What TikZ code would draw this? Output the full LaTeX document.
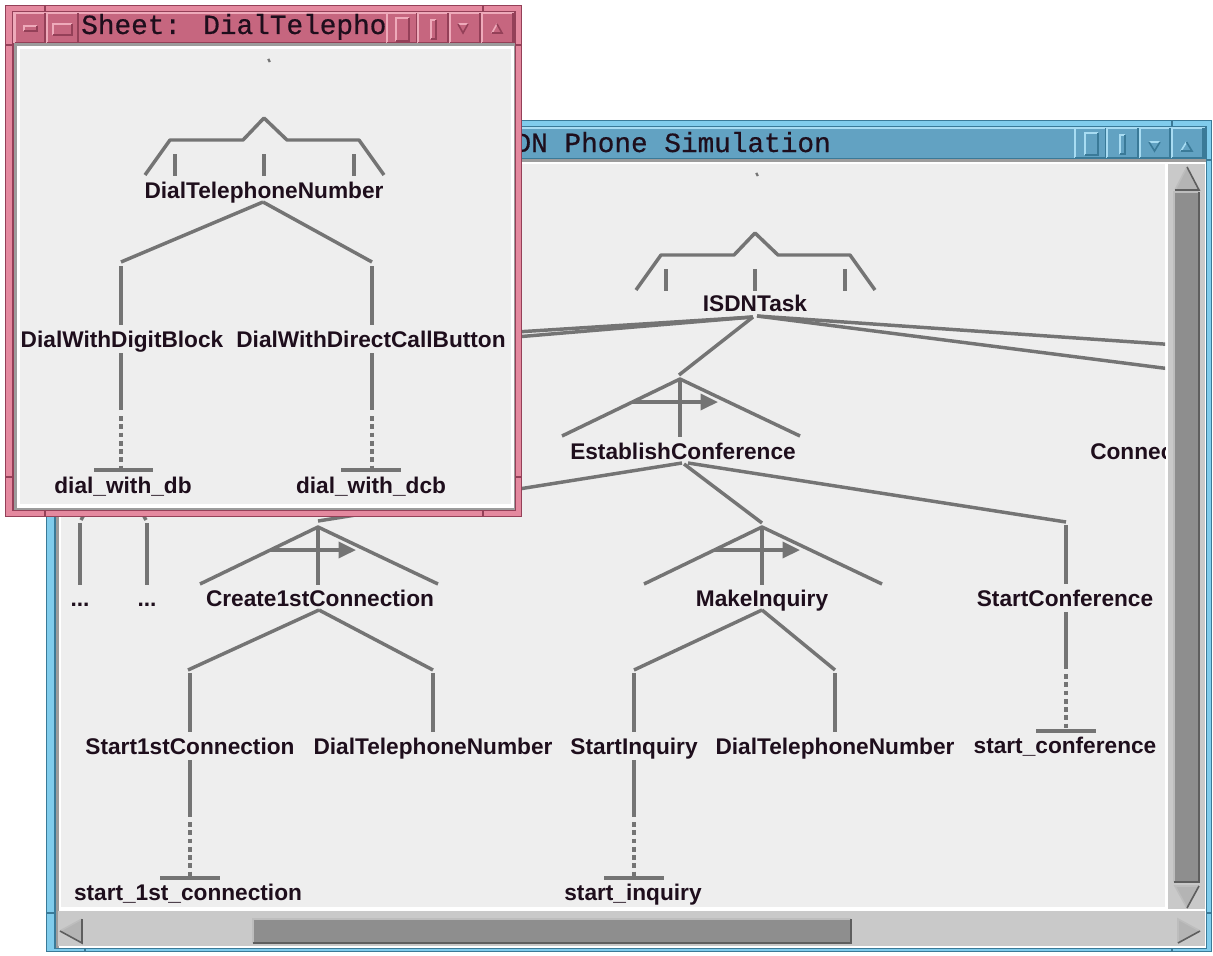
\documentclass[tikz,border=0pt]{standalone}
\usepackage{fontspec}
\setmainfont{Liberation Sans}
\newfontfamily\ttlfont{Liberation Mono}[FakeBold=0.6]
\usetikzlibrary{arrows.meta,calc}

\definecolor{linegray}{HTML}{747474}
\definecolor{inktext}{HTML}{1E0E1C}
\definecolor{canvas}{HTML}{EEEEEE}
\definecolor{shadowgray}{HTML}{9C9C9C}
\definecolor{bluefr}{HTML}{80CCEC}
\definecolor{bluedark}{HTML}{3A7A98}
\definecolor{blueface}{HTML}{62A2C2}
\definecolor{bluelight}{HTML}{A8DCF2}
\definecolor{pinkfr}{HTML}{E4899F}
\definecolor{pinkdark}{HTML}{944058}
\definecolor{pinkface}{HTML}{C6667F}
\definecolor{pinklight}{HTML}{EEAABA}
\definecolor{trough}{HTML}{C9C9C9}
\definecolor{thumbface}{HTML}{8E8E8E}
\definecolor{thumblight}{HTML}{BDBDBD}
\definecolor{thumbdark}{HTML}{5E5E5E}
\definecolor{arrowface}{HTML}{B4B4B4}

% raised (bevelled) rectangle: x1 y1 x2 y2 colour-prefix
\newcommand\winbtn[5]{%
  \fill[#5face] (#1,#2) rectangle (#3,#4);
  \draw[#5light, line width=1.2pt] (#1,#4) -- (#1,#2) -- (#3,#2);
  \draw[#5dark, line width=1.2pt] (#3,#2) -- (#3,#4) -- (#1,#4);
}

\tikzset{
  lbl/.style={font=\fontsize{17}{20}\selectfont\bfseries, text=inktext, inner sep=0pt, anchor=base},
  ttl/.style={font=\ttlfont\fontsize{20.8}{24}\selectfont, text=inktext, inner sep=0pt, anchor=base west},
  lnk/.style={draw=linegray, line width=2.6pt, line join=round},
  dotlnk/.style={lnk, dash pattern=on 3.6pt off 2.6pt},
  % sequence operator: apex at the origin
  seqsym/.pic={
    \draw[lnk] (-118,57) -- (0,0) -- (120,57);
    \draw[lnk] (0,0) -- (0,58);
    \draw[lnk, -{Triangle[length=13pt,width=12pt]}] (-48,23) -- (38,23);
  },
  % alternative bracket: peak at the origin
  choicesym/.pic={
    \draw[lnk] (-119,57) -- (-94,22) -- (-21,22) -- (0,0) -- (23,22) -- (95,22) -- (120,57);
    \foreach \tx in {-89,0,90} { \draw[lnk] (\tx,36) -- (\tx,58); }
  }
}

\begin{document}
\begin{tikzpicture}[x=0.75pt,y=-0.75pt]
\useasboundingbox (0,0) rectangle (1213,956);
\fill[white] (0,0) rectangle (1213,956);

% ================= main window =================
\fill[bluefr] (46,120) rectangle (1212,952);
\draw[bluedark, line width=0.8pt] (46.5,120.5) rectangle (1211.5,951.5);
\draw[bluedark, line width=0.8pt] (55,127) rectangle (1206,948);
\draw[bluedark, line width=0.8pt] (1172,120) -- (1172,127) (1172,948) -- (1172,952)
  (85,948) -- (85,952) (1206,160) -- (1212,160) (1206,913) -- (1212,913) (46,913) -- (55,913);
\winbtn{56}{128}{1205}{159}{blue}
\node[ttl] (maintitle) at (481,152) {ISDN Phone Simulation};
\winbtn{1075}{128}{1106}{158}{blue}
\winbtn{1107}{128}{1138}{158}{blue}
\winbtn{1140}{128}{1170}{158}{blue}
\winbtn{1172}{128}{1203}{158}{blue}
\winbtn{1085}{133}{1098}{155}{blue}
\winbtn{1120}{135}{1125}{154}{blue}
\draw[bluelight, line width=1.2pt] (1149,142) -- (1160,142);
\draw[bluedark, line width=1.2pt] (1160,142) -- (1154.5,151) -- (1149,142);
\draw[bluelight, line width=1.2pt] (1181,151) -- (1186.5,142);
\draw[bluedark, line width=1.2pt] (1186.5,142) -- (1192,151) -- (1181,151);

\fill[shadowgray] (56,159) rectangle (1206,948);
\fill[white] (59,162) rectangle (1206,948);
\fill[canvas] (61,164) rectangle (1165,907);

% scroll bars
\fill[trough] (1168,164) rectangle (1205,909);
\fill[trough] (58,911) rectangle (1205,946);
\winbtn{1174}{192}{1199}{882}{thumb}
\winbtn{253}{919}{851}{943}{thumb}
\fill[arrowface] (1175,190) -- (1187,167) -- (1199,190) -- cycle;
\draw[thumblight, line width=1.2pt] (1175,190) -- (1187,167);
\draw[thumbdark, line width=1.2pt] (1187,167) -- (1199,190) -- (1175,190);
\fill[arrowface] (1175,886) -- (1199,886) -- (1187,908) -- cycle;
\draw[thumblight, line width=1.2pt] (1187,908) -- (1175,886) -- (1199,886);
\draw[thumbdark, line width=1.2pt] (1199,886) -- (1187,908);
\fill[arrowface] (82,919) -- (60,931) -- (82,943) -- cycle;
\draw[thumblight, line width=1.2pt] (82,919) -- (60,931);
\draw[thumbdark, line width=1.2pt] (60,931) -- (82,943) -- (82,919);
\fill[arrowface] (1178,919) -- (1200,931) -- (1178,943) -- cycle;
\draw[thumblight, line width=1.2pt] (1178,943) -- (1178,919) -- (1200,931);
\draw[thumbdark, line width=1.2pt] (1200,931) -- (1178,943);

% ---------- task tree ----------
\begin{scope}
\clip (61,164) rectangle (1165,907);
\draw[lnk] (756,175) -- (758,174);

\coordinate (isdnA) at (755,233);
\pic at (isdnA) {choicesym};
\node[lbl] (isdn) at (755,311) {ISDNTask};

\coordinate (ecA) at (680,379);
\pic at (ecA) {seqsym};
\node[lbl] (ec) at (683,459) {EstablishConference};
\node[lbl, anchor=base west] (conn) at (1090,459) {Connect};

\coordinate (hidA) at (480,334.3);
\coordinate (hidB) at (480,340);
\coordinate (offA) at (1166,344.2);
\coordinate (offB) at (1166,368.4);
\draw[lnk] ($(isdn.base)+(-2,6)$) -- (hidA);
\draw[lnk] ($(isdn.base)+(-2,6)$) -- (hidB);
\draw[lnk] ($(isdn.base)+(2,5)$) -- (offA);
\draw[lnk] ($(isdn.base)+(2,5)$) -- (offB);
\draw[lnk] ($(isdn.base)+(-2,6)$) -- ($(ecA)+(-1,-4)$);

% second level
\coordinate (c1cA) at (318,527);
\coordinate (miA) at (762,527);
\coordinate (scT) at (1066,522);
\pic at (c1cA) {seqsym};
\pic at (miA) {seqsym};
\node[lbl] (c1c) at (320,606) {Create1stConnection};
\node[lbl] (mi) at (762,606) {MakeInquiry};
\node[lbl] (sc) at (1065,606) {StartConference};
\node[lbl] (dotsA) at (80,606) {...};
\node[lbl] (dotsB) at (147,606) {...};

\draw[lnk] ($(ec.base)+(-1,4)$) -- ($(c1cA)+(0,-6)$);
\draw[lnk] ($(ec.base)+(1,5)$) -- ($(miA)+(0,-4)$);
\draw[lnk] ($(ec.base)+(5,4)$) -- (scT);
\draw[lnk] ($(scT)+(0,3)$) -- ($(sc.base)+(1,-22)$);

\coordinate (hidP) at (114,462);
\draw[lnk] (hidP) -- ($(dotsA.base)+(1,-86)$);
\draw[lnk] (hidP) -- ($(dotsB.base)+(-1,-86)$);
\draw[lnk] ($(dotsA.base)+(0,-83)$) -- ($(dotsA.base)+(0,-21)$);
\draw[lnk] ($(dotsB.base)+(0,-83)$) -- ($(dotsB.base)+(0,-21)$);

% third level
\node[lbl] (s1c) at (190,754) {Start1stConnection};
\node[lbl] (dtnA) at (433,754) {DialTelephoneNumber};
\node[lbl] (si) at (634,754) {StartInquiry};
\node[lbl] (dtnB) at (835,754) {DialTelephoneNumber};
\node[lbl] (scl) at (1065,753) {start\_conference};
\node[lbl] (s1cl) at (188,900) {start\_1st\_connection};
\node[lbl] (sil) at (633,900) {start\_inquiry};

\draw[lnk] ($(c1c.base)+(-1,4)$) -- ($(s1c.base)+(-2,-84)$);
\draw[lnk] ($(s1c.base)+(0,-81)$) -- ($(s1c.base)+(0,-22)$);
\draw[lnk] ($(c1c.base)+(-1,4)$) -- ($(dtnA.base)+(0,-84)$);
\draw[lnk] ($(dtnA.base)+(0,-81)$) -- ($(dtnA.base)+(0,-22)$);

\draw[lnk] ($(mi.base)+(0,4)$) -- ($(si.base)+(0,-84)$);
\draw[lnk] ($(si.base)+(0,-81)$) -- ($(si.base)+(0,-22)$);
\draw[lnk] ($(mi.base)+(0,4)$) -- ($(dtnB.base)+(0,-84)$);
\draw[lnk] ($(dtnB.base)+(0,-81)$) -- ($(dtnB.base)+(0,-22)$);

% basic tasks
\draw[lnk] ($(s1c.base)+(0,6)$) -- ($(s1c.base)+(0,63)$);
\draw[dotlnk] ($(s1c.base)+(0,68)$) -- ($(s1c.base)+(0,122)$);
\draw[lnk] ($(s1cl.base)+(-28,-22)$) -- ($(s1cl.base)+(32,-22)$);

\draw[lnk] ($(si.base)+(0,6)$) -- ($(si.base)+(0,63)$);
\draw[dotlnk] ($(si.base)+(0,68)$) -- ($(si.base)+(0,122)$);
\draw[lnk] ($(sil.base)+(-29,-22)$) -- ($(sil.base)+(31,-22)$);

\draw[lnk] ($(sc.base)+(1,6)$) -- ($(sc.base)+(1,63)$);
\draw[dotlnk] ($(sc.base)+(1,68)$) -- ($(sc.base)+(1,122)$);
\draw[lnk] ($(scl.base)+(-29,-22)$) -- ($(scl.base)+(31,-22)$);
\end{scope}

% ================= sheet window =================
\fill[pinkfr] (5,5) rectangle (522,517);
\draw[pinkdark, line width=0.8pt] (5.5,5.5) rectangle (521.5,516.5);
\draw[pinkdark, line width=0.8pt] (13,12) rectangle (515,510);
\draw[pinkdark, line width=0.8pt] (45,5) -- (45,12) (483,5) -- (483,12) (45,510) -- (45,517) (483,510) -- (483,517)
  (5,45) -- (13,45) (5,477) -- (13,477) (515,45) -- (522,45) (515,477) -- (522,477);
\winbtn{14}{13}{514}{43}{pink}
\winbtn{15}{13}{45}{43}{pink}
\winbtn{47}{13}{78}{43}{pink}
\winbtn{387}{13}{417}{43}{pink}
\winbtn{418}{13}{448}{43}{pink}
\winbtn{450}{13}{480}{43}{pink}
\winbtn{482}{13}{513}{43}{pink}
\winbtn{24}{26}{37}{31}{pink}
\winbtn{53}{24}{72}{35}{pink}
\winbtn{396}{18}{409}{41}{pink}
\winbtn{431}{20}{436}{39}{pink}
\draw[pinklight, line width=1.2pt] (458,24) -- (468,24);
\draw[pinkdark, line width=1.2pt] (468,24) -- (463,33) -- (458,24);
\draw[pinklight, line width=1.2pt] (492,33) -- (497,24);
\draw[pinkdark, line width=1.2pt] (497,24) -- (502,33) -- (492,33);
\node[ttl] (sheettitle) at (81,34) {Sheet: DialTelepho};

\fill[shadowgray] (14,43) rectangle (515,510);
\fill[white] (17,46) rectangle (514,508);
\fill[canvas] (20,49) rectangle (511,504);

\begin{scope}
\clip (20,49) rectangle (511,504);
\draw[lnk] (268,61) -- (270,60);
\coordinate (dtnTop) at (264,118);
\pic at (dtnTop) {choicesym};
\node[lbl] (dtn0) at (264,198) {DialTelephoneNumber};
\node[lbl] (dwdb) at (122,347) {DialWithDigitBlock};
\node[lbl] (dwdcb) at (371,347) {DialWithDirectCallButton};
\node[lbl] (dwdbl) at (123,493) {dial\_with\_db};
\node[lbl] (dwdcbl) at (371,493) {dial\_with\_dcb};

\draw[lnk] ($(dtn0.base)+(-1,4)$) -- ($(dwdb.base)+(-1,-85)$);
\draw[lnk] ($(dwdb.base)+(-1,-81)$) -- ($(dwdb.base)+(-1,-22)$);
\draw[lnk] ($(dtn0.base)+(-1,4)$) -- ($(dwdcb.base)+(1,-85)$);
\draw[lnk] ($(dwdcb.base)+(1,-81)$) -- ($(dwdcb.base)+(1,-22)$);

\draw[lnk] ($(dwdb.base)+(-1,6)$) -- ($(dwdb.base)+(-1,63)$);
\draw[dotlnk] ($(dwdb.base)+(-1,69)$) -- ($(dwdb.base)+(-1,121)$);
\draw[lnk] ($(dwdbl.base)+(-29,-23)$) -- ($(dwdbl.base)+(30,-23)$);

\draw[lnk] ($(dwdcb.base)+(1,6)$) -- ($(dwdcb.base)+(1,63)$);
\draw[dotlnk] ($(dwdcb.base)+(1,69)$) -- ($(dwdcb.base)+(1,121)$);
\draw[lnk] ($(dwdcbl.base)+(-30,-23)$) -- ($(dwdcbl.base)+(30,-23)$);
\end{scope}
\end{tikzpicture}
\end{document}
